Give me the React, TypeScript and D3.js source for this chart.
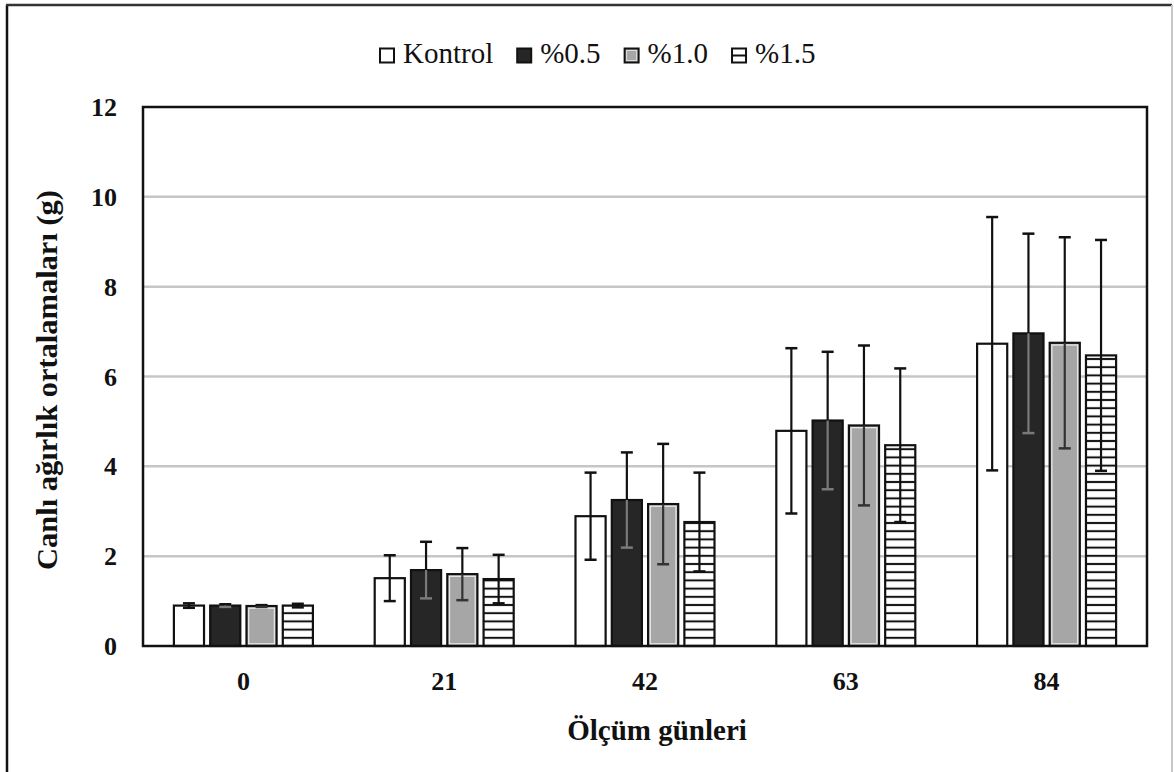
import React from "react";
import * as d3 from "d3";

const days = ["0", "21", "42", "63", "84"];
const seriesNames = ["Kontrol", "%0.5", "%1.0", "%1.5"];
const kontrolMeans = [0.9, 1.51, 2.89, 4.79, 6.73];
const kontrolSd = [0.05, 0.51, 0.97, 1.84, 2.82];
const p05Means = [0.9, 1.69, 3.25, 5.02, 6.96];
const p05Sd = [0.03, 0.63, 1.06, 1.53, 2.22];
const p10Means = [0.89, 1.6, 3.16, 4.91, 6.75];
const p10Sd = [0.02, 0.58, 1.34, 1.78, 2.35];
const p15Means = [0.9, 1.49, 2.76, 4.47, 6.47];
const p15Sd = [0.04, 0.54, 1.1, 1.71, 2.57];
const yTicks = [0, 2, 4, 6, 8, 10, 12];
const xTitle = "Ölçüm günleri";
const yTitle = "Canlı ağırlık ortalamaları (g)";

const means = [kontrolMeans, p05Means, p10Means, p15Means];
const sds = [kontrolSd, p05Sd, p10Sd, p15Sd];

const W = 1174;
const H = 772;
const plot = { left: 143, right: 1147, top: 107, bottom: 646 };
const FONT = "'Liberation Serif', 'Times New Roman', serif";

function measure(text: string, font: string): number {
  const c = document.createElement("canvas").getContext("2d");
  if (!c) return text.length * 14;
  c.font = font;
  return c.measureText(text).width;
}

export default function App() {
  const x = d3.scaleBand<string>().domain(days).range([plot.left, plot.right]).padding(0);
  const xi = d3
    .scaleBand<string>()
    .domain(seriesNames)
    .range([-69.5, 69.5])
    .paddingInner(0.17)
    .paddingOuter(0);
  const y = d3.scaleLinear().domain([0, 12]).range([plot.bottom, plot.top]);
  const bw = xi.bandwidth();

  const fills = ["#ffffff", "#262626", "#a6a6a6", "url(#hatch)"];

  // legend layout
  const legendFont = `29px ${FONT}`;
  let lx = 380;
  const legendItems = seriesNames.map((name, i) => {
    const tw = measure(name, legendFont);
    const item = { name, i, x: lx };
    lx += 15 + 8 + tw + 24;
    return item;
  });

  return (
    <svg
      width={W}
      height={H}
      style={{ position: "absolute", left: 0, top: 0, background: "#fff" }}
      fontFamily={FONT}
    >
      <defs>
        <pattern
          id="hatch"
          patternUnits="userSpaceOnUse"
          width={10}
          height={8.2}
          y={y(0)}
        >
          <rect width={10} height={8.2} fill="#fff" />
          <rect y={-1} width={10} height={2} fill="#111" />
          <rect y={7.2} width={10} height={2} fill="#111" />
        </pattern>
      </defs>
      <rect x={0} y={0} width={W} height={H} fill="#fff" />
      {/* outer border */}
      <line x1={7} y1={5} x2={7} y2={H} stroke="#111" strokeWidth={2.5} />
      <line x1={6} y1={5} x2={1172} y2={5} stroke="#333" strokeWidth={2.5} />
      <line x1={1172} y1={5} x2={1172} y2={H} stroke="#c8c8c8" strokeWidth={2} />

      {/* legend */}
      {legendItems.map((it) => (
        <g key={it.name}>
          <rect
            x={it.x}
            y={48.5}
            width={14}
            height={14}
            fill={it.i === 3 ? "#fff" : fills[it.i]}
            stroke="#111"
            strokeWidth={2}
          />
          {it.i === 2 && (
            <rect x={it.x + 2} y={50.5} width={10} height={10} fill="none" stroke="#ddd" strokeWidth={1} />
          )}
          {it.i === 3 && (
            <line x1={it.x} x2={it.x + 14} y1={55.5} y2={55.5} stroke="#111" strokeWidth={2} />
          )}
          <text x={it.x + 15 + 8} y={63} fontSize={29} fill="#111">
            {it.name}
          </text>
        </g>
      ))}

      {/* gridlines */}
      {yTicks
        .filter((t) => t > 0 && t < 12)
        .map((t) => (
          <line
            key={t}
            x1={plot.left}
            x2={plot.right}
            y1={y(t)}
            y2={y(t)}
            stroke="#c6c6c6"
            strokeWidth={2.5}
          />
        ))}

      {/* bars */}
      {days.map((d, di) => (
        <g key={d} transform={`translate(${(x(d) as number) + x.bandwidth() / 2},0)`}>
          {seriesNames.map((s, si) => {
            const v = means[si][di];
            const bx = xi(s) as number;
            const top = y(v);
            const h = y(0) - top;
            return (
              <g key={s}>
                <rect
                  x={bx}
                  y={top}
                  width={bw}
                  height={h}
                  fill={fills[si]}
                  stroke="#111"
                  strokeWidth={2.2}
                />
                {si === 2 && (
                  <rect
                    x={bx + 2.2}
                    y={top + 2.2}
                    width={bw - 4.4}
                    height={Math.max(0, h - 4.4)}
                    fill="none"
                    stroke="#e6e6e6"
                    strokeWidth={1.3}
                  />
                )}
              </g>
            );
          })}
          {seriesNames.map((s, si) => {
            const v = means[si][di];
            const sd = sds[si][di];
            const cx = (xi(s) as number) + bw / 2;
            const hi = y(v + sd);
            const lo = y(v - sd);
            const mid = y(v);
            const innerColor = si === 1 ? "#7a7a7a" : si === 2 ? "#333" : "#111";
            return (
              <g key={s + "e"}>
                <line x1={cx} x2={cx} y1={hi} y2={mid} stroke="#111" strokeWidth={2.2} />
                <line x1={cx - 6} x2={cx + 6} y1={hi} y2={hi} stroke="#111" strokeWidth={2.5} />
                <line x1={cx} x2={cx} y1={mid} y2={lo} stroke={innerColor} strokeWidth={2.2} />
                <line x1={cx - 6} x2={cx + 6} y1={lo} y2={lo} stroke={innerColor} strokeWidth={2.5} />
              </g>
            );
          })}
        </g>
      ))}

      {/* plot frame */}
      <rect
        x={plot.left}
        y={plot.top}
        width={plot.right - plot.left}
        height={plot.bottom - plot.top}
        fill="none"
        stroke="#111"
        strokeWidth={2.5}
      />

      {/* y ticks */}
      {yTicks.map((t) => (
        <text
          key={t}
          x={117}
          y={y(t)}
          dy="0.35em"
          textAnchor="end"
          fontSize={26}
          fontWeight="bold"
          fill="#111"
        >
          {t}
        </text>
      ))}

      {/* x ticks */}
      {days.map((d) => (
        <text
          key={d}
          x={(x(d) as number) + x.bandwidth() / 2}
          y={690}
          textAnchor="middle"
          fontSize={26}
          fontWeight="bold"
          fill="#111"
        >
          {d}
        </text>
      ))}

      {/* axis titles */}
      <text x={657} y={740} textAnchor="middle" fontSize={29} fontWeight="bold" fill="#111">
        {xTitle}
      </text>
      <text
        transform={`translate(57,380) rotate(-90)`}
        textAnchor="middle"
        fontSize={29}
        fontWeight="bold"
        fill="#111"
        textLength={380}
        lengthAdjust="spacingAndGlyphs"
      >
        {yTitle}
      </text>
    </svg>
  );
}
